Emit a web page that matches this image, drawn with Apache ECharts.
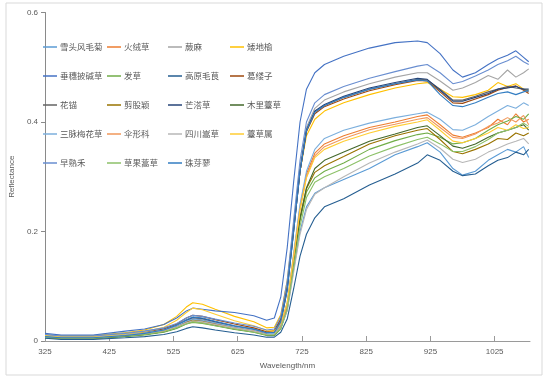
<!DOCTYPE html>
<html><head><meta charset="utf-8">
<script src="https://cdn.jsdelivr.net/npm/echarts@6/dist/echarts.min.js"></script>
<style>html,body{margin:0;padding:0;background:#fff}#c{width:554px;height:385px}</style>
</head><body><div id="c"></div>
<script>
const wavelengths = [325,350,400,450,480,510,530,545,555,570,590,620,650,670,682,692,702,712,722,732,745,760,790,830,870,905,920,940,960,975,995,1015,1030,1045,1058,1070,1078];
const xTicks = [325,425,525,625,725,825,925,1025];
const yTicks = [0,0.2,0.4,0.6];
const names = ['雪头风毛菊','火绒草','蕨麻','矮地榆','垂穗披碱草','发草','高原毛茛','葛缕子','花锚','剪股颖','芒溚草','木里薹草','三脉梅花草','伞形科','四川嵩草','薹草属','早熟禾','草果蒿草','珠芽蓼'];
const colors = ['#5B9BD5','#ED7D31','#A5A5A5','#FFC000','#4472C4','#70AD47','#255E91','#9E480E','#636363','#997300','#264478','#43682B','#7CAFDD','#F1975A','#B7B7B7','#FFCD33','#698ED0','#8CC168','#327DC2'];

const s_xuetou = [0.012,0.01,0.01,0.015,0.018,0.023,0.03,0.037,0.04,0.038,0.032,0.025,0.019,0.012,0.012,0.024,0.056,0.13,0.2,0.245,0.27,0.28,0.295,0.315,0.34,0.355,0.362,0.345,0.315,0.303,0.31,0.33,0.34,0.35,0.345,0.355,0.335];
const s_huorong = [0.009,0.007,0.007,0.011,0.014,0.019,0.027,0.035,0.039,0.037,0.032,0.025,0.019,0.013,0.013,0.028,0.068,0.155,0.245,0.305,0.343,0.36,0.375,0.39,0.4,0.41,0.413,0.395,0.376,0.372,0.38,0.39,0.405,0.395,0.415,0.4,0.405];
const s_jueMa = [0.009,0.007,0.007,0.011,0.015,0.02,0.028,0.038,0.042,0.04,0.035,0.028,0.022,0.016,0.018,0.04,0.1,0.21,0.32,0.39,0.425,0.44,0.455,0.47,0.482,0.49,0.49,0.475,0.458,0.462,0.472,0.485,0.478,0.495,0.482,0.49,0.497];
const s_aidiyu = [0.011,0.009,0.009,0.015,0.02,0.03,0.045,0.062,0.07,0.067,0.058,0.045,0.035,0.024,0.025,0.048,0.11,0.21,0.31,0.375,0.405,0.42,0.435,0.45,0.462,0.47,0.472,0.46,0.446,0.445,0.45,0.458,0.472,0.465,0.47,0.46,0.458];
const s_chuisui = [0.014,0.011,0.011,0.018,0.022,0.03,0.042,0.055,0.06,0.058,0.055,0.052,0.046,0.038,0.042,0.08,0.17,0.29,0.4,0.46,0.49,0.505,0.52,0.535,0.545,0.548,0.545,0.525,0.495,0.482,0.49,0.505,0.515,0.522,0.53,0.518,0.51];
const s_facao = [0.006,0.004,0.004,0.008,0.011,0.016,0.023,0.031,0.034,0.032,0.028,0.021,0.016,0.01,0.01,0.022,0.058,0.14,0.22,0.272,0.298,0.31,0.325,0.35,0.366,0.377,0.38,0.372,0.36,0.362,0.37,0.385,0.395,0.402,0.41,0.405,0.415];
const s_maogen = [0.005,0.003,0.003,0.006,0.008,0.012,0.017,0.023,0.026,0.024,0.02,0.015,0.011,0.007,0.007,0.016,0.04,0.095,0.155,0.195,0.225,0.245,0.26,0.285,0.305,0.325,0.34,0.33,0.31,0.302,0.305,0.32,0.33,0.335,0.345,0.34,0.35];
const s_gelvzi = [0.01,0.008,0.008,0.012,0.016,0.022,0.031,0.042,0.047,0.045,0.039,0.031,0.024,0.017,0.019,0.04,0.1,0.205,0.31,0.382,0.415,0.428,0.442,0.457,0.468,0.476,0.475,0.455,0.435,0.434,0.442,0.45,0.458,0.463,0.466,0.458,0.452];
const s_huamao = [0.008,0.006,0.006,0.01,0.014,0.019,0.027,0.036,0.04,0.038,0.033,0.026,0.02,0.014,0.016,0.036,0.095,0.2,0.31,0.385,0.418,0.43,0.445,0.46,0.47,0.478,0.477,0.46,0.44,0.44,0.447,0.455,0.46,0.465,0.462,0.46,0.455];
const s_jiangu = [0.008,0.006,0.006,0.01,0.013,0.018,0.026,0.034,0.038,0.036,0.031,0.024,0.018,0.012,0.012,0.025,0.062,0.145,0.225,0.278,0.308,0.32,0.337,0.36,0.375,0.385,0.388,0.368,0.346,0.342,0.35,0.36,0.37,0.368,0.38,0.375,0.38];
const s_mangta = [0.007,0.005,0.005,0.009,0.013,0.019,0.028,0.038,0.043,0.041,0.035,0.027,0.021,0.014,0.015,0.034,0.092,0.2,0.31,0.385,0.42,0.432,0.447,0.462,0.472,0.48,0.478,0.458,0.438,0.438,0.445,0.452,0.46,0.462,0.465,0.46,0.46];
const s_muli = [0.007,0.005,0.005,0.009,0.012,0.017,0.024,0.032,0.036,0.034,0.029,0.022,0.017,0.011,0.011,0.024,0.06,0.14,0.225,0.28,0.315,0.33,0.345,0.365,0.378,0.39,0.393,0.375,0.356,0.352,0.36,0.372,0.38,0.385,0.39,0.395,0.385];
const s_sanmai = [0.01,0.008,0.008,0.012,0.015,0.02,0.028,0.036,0.04,0.038,0.033,0.026,0.02,0.014,0.014,0.03,0.07,0.16,0.25,0.31,0.35,0.37,0.385,0.398,0.408,0.415,0.418,0.405,0.386,0.385,0.395,0.41,0.42,0.43,0.425,0.435,0.43];
const s_sanxing = [0.008,0.006,0.006,0.01,0.013,0.018,0.025,0.033,0.036,0.034,0.03,0.023,0.018,0.012,0.012,0.026,0.064,0.15,0.24,0.3,0.338,0.355,0.37,0.386,0.396,0.405,0.408,0.39,0.372,0.37,0.378,0.392,0.398,0.408,0.4,0.412,0.395];
const s_sichuan = [0.009,0.007,0.007,0.011,0.014,0.019,0.026,0.033,0.037,0.035,0.03,0.024,0.018,0.012,0.012,0.024,0.055,0.125,0.195,0.24,0.268,0.28,0.3,0.325,0.345,0.36,0.367,0.352,0.332,0.326,0.332,0.345,0.352,0.36,0.365,0.37,0.36];
const s_taicao = [0.01,0.008,0.008,0.013,0.017,0.025,0.038,0.052,0.06,0.057,0.049,0.037,0.028,0.019,0.018,0.032,0.07,0.155,0.24,0.298,0.335,0.35,0.365,0.38,0.392,0.4,0.404,0.385,0.365,0.362,0.37,0.38,0.39,0.385,0.395,0.388,0.39];
const s_zaoshu = [0.012,0.009,0.009,0.014,0.018,0.024,0.032,0.042,0.047,0.045,0.04,0.033,0.027,0.02,0.022,0.045,0.11,0.22,0.33,0.4,0.435,0.45,0.465,0.48,0.492,0.502,0.505,0.49,0.47,0.474,0.484,0.495,0.505,0.512,0.52,0.51,0.505];
const s_caoguo = [0.007,0.005,0.005,0.009,0.012,0.017,0.024,0.031,0.035,0.033,0.028,0.022,0.016,0.011,0.011,0.023,0.058,0.135,0.21,0.262,0.29,0.3,0.315,0.338,0.355,0.368,0.372,0.36,0.346,0.346,0.355,0.368,0.38,0.385,0.39,0.398,0.392];
const s_zhuya = [0.008,0.006,0.006,0.01,0.014,0.02,0.029,0.039,0.044,0.042,0.036,0.028,0.022,0.015,0.016,0.035,0.094,0.2,0.31,0.384,0.418,0.43,0.445,0.46,0.47,0.477,0.475,0.45,0.43,0.428,0.435,0.445,0.452,0.455,0.45,0.455,0.458];

const allValues = [s_xuetou,s_huorong,s_jueMa,s_aidiyu,s_chuisui,s_facao,s_maogen,s_gelvzi,s_huamao,s_jiangu,s_mangta,s_muli,s_sanmai,s_sanxing,s_sichuan,s_taicao,s_zaoshu,s_caoguo,s_zhuya];

const series = names.map((n,i)=>({
  name:n, type:'line', showSymbol:false, symbol:'none', smooth:false,
  lineStyle:{width:1.1,color:colors[i]}, itemStyle:{color:colors[i]},
  data: wavelengths.map((w,j)=>[w, allValues[i][j]])
}));

const colLeft = [38,102,163,225];
const legends = colLeft.map((l,c)=>({
  orient:'vertical', left:l, top:36, itemGap:17,
  icon:'rect', itemWidth:14, itemHeight:1.5,
  textStyle:{color:'#595959',fontSize:8.5,fontFamily:'Noto Sans CJK SC',lineHeight:12,padding:[0,0,0,-2]},
  data: names.filter((_,i)=>i%4===c),
  selectedMode:false
}));

const chart = echarts.init(document.getElementById('c'),null,{renderer:'canvas'});
chart.setOption({
  animation:false,
  backgroundColor:'#fff',
  graphic:[{type:'rect',shape:{x:6,y:3,width:536,height:372},style:{fill:'none',stroke:'#d9d9d9',lineWidth:1},silent:true}],
  grid:{left:44,right:24,top:12.5,bottom:44,containLabel:false},
  legend:legends,
  xAxis:{type:'value',min:325,max:1080,
    name:'Wavelength/nm',nameLocation:'middle',nameGap:21,
    nameTextStyle:{color:'#595959',fontSize:8,fontFamily:'Liberation Sans'},
    axisLine:{show:true,lineStyle:{color:'#9a9a9a',width:1}},
    axisTick:{show:true,inside:true,length:5,customValues:xTicks,lineStyle:{color:'#9a9a9a'}},
    axisLabel:{customValues:xTicks,formatter:v=>String(v),color:'#595959',fontSize:8,fontFamily:'Liberation Sans',margin:7},
    splitLine:{show:false}},
  yAxis:{type:'value',min:0,max:0.6,interval:0.2,
    name:'Reflectance',nameLocation:'middle',nameGap:19,nameRotate:90,
    nameTextStyle:{color:'#595959',fontSize:8,fontFamily:'Liberation Sans'},
    axisLine:{show:true,lineStyle:{color:'#8a8a8a',width:1}},
    axisTick:{show:true,inside:false,length:4,customValues:yTicks,lineStyle:{color:'#8a8a8a'}},
    axisLabel:{customValues:yTicks,formatter:v=>String(v),color:'#595959',fontSize:8,fontFamily:'Liberation Sans',margin:7},
    splitLine:{show:false}},
  series:series
});
</script></body></html>
